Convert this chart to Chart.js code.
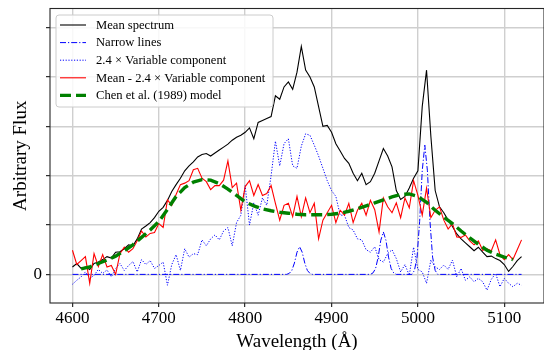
<!DOCTYPE html>
<html>
<head>
<meta charset="utf-8">
<script src="https://cdn.jsdelivr.net/npm/chart.js@4.4.1/dist/chart.umd.min.js"></script>
<style>
  html, body { margin: 0; padding: 0; background: #fff; }
  #wrap { width: 544px; height: 350px; }
</style>
</head>
<body>
<div id="wrap"><canvas id="spectrum" width="544" height="350"></canvas></div>
<script>
// 5 Å wavelength grid for the measured spectra
const wave = [];
for (let w = 4600; w <= 5120; w += 5) wave.push(w);

// mean spectrum
const meanFlux = [
  0.15, 0.22, 0.12, 0.15, 0.10, 0.22, 0.25, 0.30, 0.36, 0.33,
  0.45, 0.46, 0.52, 0.60, 0.58, 0.72, 0.92, 0.98, 1.05, 1.15,
  1.28, 1.36, 1.50, 1.68, 1.82, 1.95, 2.10, 2.20, 2.28, 2.38,
  2.43, 2.45, 2.40, 2.46, 2.52, 2.58, 2.64, 2.72, 2.78, 2.82,
  2.88, 2.97, 2.75, 3.08, 3.12, 3.16, 3.20, 3.62, 3.55, 3.80,
  3.90, 3.75, 4.10, 4.62, 4.14, 4.00, 3.80, 3.40, 3.00, 3.02,
  2.88, 2.65, 2.50, 2.35, 2.25, 2.05, 1.90, 2.05, 1.82, 1.88,
  2.05, 2.30, 2.55, 2.40, 2.18, 1.70, 1.52, 1.58, 1.75, 1.95,
  2.10, 3.40, 4.14, 2.80, 1.70, 1.37, 1.25, 1.10, 0.97, 0.82,
  0.72, 0.64, 0.56, 0.48, 0.55, 0.45, 0.36, 0.37, 0.32, 0.28,
  0.20, 0.06, 0.16, 0.28, 0.36
];

// 2.4 x variable component
const varFlux = [
  -0.20, -0.12, -0.05, 0.05, -0.08, -0.02, 0.10, 0.02, 0.09, -0.05,
  0.12, 0.22, 0.08, 0.18, 0.26, 0.05, 0.30, 0.20, 0.28, 0.12,
  0.18, 0.25, -0.22, 0.20, 0.40, 0.08, 0.52, 0.35, 0.42, 0.40,
  0.70, 0.58, 0.72, 0.80, 0.70, 0.88, 0.95, 0.58, 1.05, 1.20,
  1.80, 1.00, 1.45, 1.20, 1.55, 1.40, 2.00, 2.70, 2.20, 2.65,
  2.75, 2.20, 2.15, 2.60, 2.85, 2.82, 2.62, 2.40, 2.15, 1.90,
  1.70, 1.58, 1.20, 1.20, 0.95, 0.90, 0.72, 0.70, 0.50, 0.45,
  0.56, 0.30, 0.25, 0.42, 0.50, 0.32, 0.05, 0.20, -0.02, 0.55,
  0.10, 0.05, -0.18, 0.29, 0.15, 0.10, 0.19, 0.10, 0.29, -0.05,
  0.12, -0.12, -0.05, -0.15, -0.08, -0.15, -0.32, -0.10, 0.02, -0.25,
  -0.08, -0.18, -0.25, -0.18, -0.22
];

// mean minus 2.4 x variable component
const residFlux = [
  0.49, 0.20, 0.28, 0.36, -0.18, 0.42, 0.16, 0.40, 0.15, 0.18,
  0.00, 0.42, 0.55, 0.45, 0.52, 0.68, 0.88, 0.76, 0.83, 0.85,
  1.03, 0.95, 1.51, 1.40, 1.62, 1.82, 1.85, 1.90, 2.12, 2.15,
  1.95, 1.88, 1.72, 1.80, 1.80, 1.91, 2.30, 1.76, 1.85, 1.30,
  1.78, 1.90, 1.60, 1.82, 1.60, 1.64, 1.80, 1.44, 1.10, 1.40,
  1.44, 1.17, 1.58, 1.17, 1.55, 1.25, 1.44, 0.72, 1.10, 1.25,
  1.40, 1.05, 1.30, 1.20, 1.44, 1.05, 1.30, 1.44, 1.20, 1.50,
  1.31, 0.86, 1.55, 1.37, 1.25, 1.45, 1.15, 1.55, 1.35, 1.90,
  1.60, 1.20, 1.75, 1.15, 1.30, 1.37, 1.10, 0.92, 1.03, 0.76,
  0.75, 0.80, 0.68, 0.60, 0.68, 0.49, 0.52, 0.48, 0.70, 0.40,
  0.30, 0.40, 0.30, 0.50, 0.70
];

// narrow emission lines (Hβ, [O III] 4959, 5007)
const narrowWave = [
  4600, 4848, 4851, 4854, 4857, 4860, 4863, 4866, 4869, 4872, 4875, 4878,
  4945, 4948, 4951, 4954, 4957, 4960, 4963, 4966, 4969, 4972, 4975,
  4993, 4996, 4999, 5002, 5005, 5008, 5011, 5014, 5017, 5020, 5023, 5120
];
const narrowFlux = [
  0, 0, 0.02, 0.08, 0.23, 0.45, 0.56, 0.45, 0.23, 0.08, 0.02, 0,
  0, 0.03, 0.12, 0.35, 0.69, 0.86, 0.69, 0.35, 0.12, 0.03, 0,
  0, 0.08, 0.35, 1.07, 2.10, 2.62, 2.10, 1.07, 0.35, 0.08, 0, 0
];

// Chen et al. (1989) model on a 10 Å grid
const modelWave = [];
for (let w = 4610; w <= 5110; w += 10) modelWave.push(w);
const modelFlux = [
  0.11, 0.15, 0.22, 0.29, 0.37, 0.48, 0.60, 0.75, 0.90, 1.07,
  1.32, 1.58, 1.76, 1.87, 1.92, 1.91, 1.84, 1.73, 1.60, 1.47,
  1.39, 1.33, 1.29, 1.26, 1.24, 1.22, 1.21, 1.21, 1.21, 1.22,
  1.24, 1.28, 1.33, 1.39, 1.45, 1.51, 1.57, 1.62, 1.63, 1.58,
  1.46, 1.30, 1.16, 1.03, 0.88, 0.74, 0.61, 0.49, 0.41, 0.35,
  0.30
];

const xTicks = [4600, 4700, 4800, 4900, 5000, 5100];
const yTicks = [0, 1, 2, 3, 4, 5];

const pairs = (xs, ys) => xs.map((x, i) => ({ x: x, y: ys[i] }));
const serif = '"Liberation Serif", "Times New Roman", serif';

const series = [
  { label: 'Mean spectrum', data: pairs(wave, meanFlux), color: '#000000', width: 1.1, dash: [], order: 4 },
  { label: 'Narrow lines', data: pairs(narrowWave, narrowFlux), color: '#0000ff', width: 1.0, dash: [6, 2, 1.2, 2], order: 3 },
  { label: '2.4 \u00d7 Variable component', data: pairs(wave, varFlux), color: '#0000ff', width: 1.0, dash: [1.2, 1.6], order: 2 },
  { label: 'Mean - 2.4 \u00d7 Variable component', data: pairs(wave, residFlux), color: '#ff0000', width: 1.1, dash: [], order: 1 },
  { label: 'Chen et al. (1989) model', data: pairs(modelWave, modelFlux), color: '#008000', width: 3.4, dash: [11, 5], order: 0 }
];

// frame around the plotting area
const plotBox = {
  id: 'plotBox',
  afterDatasetsDraw(chart) {
    const { ctx, chartArea: a } = chart;
    ctx.save();
    ctx.strokeStyle = '#262626';
    ctx.lineWidth = 1.1;
    ctx.strokeRect(a.left, a.top, a.right - a.left, a.bottom - a.top);
    ctx.restore();
  }
};

// legend box in the upper left corner of the axes
const cornerLegend = {
  id: 'cornerLegend',
  afterDraw(chart) {
    const ctx = chart.ctx;
    const x0 = 56, y0 = 15, w = 217, h = 92, r = 3;
    ctx.save();
    ctx.beginPath();
    ctx.roundRect(x0, y0, w, h, r);
    ctx.fillStyle = 'rgba(255,255,255,0.85)';
    ctx.fill();
    ctx.strokeStyle = '#cccccc';
    ctx.lineWidth = 1;
    ctx.stroke();
    ctx.font = '12.6px ' + serif;
    ctx.textBaseline = 'middle';
    ctx.fillStyle = '#000';
    series.forEach((s, i) => {
      const y = 25 + i * 17.6;
      ctx.beginPath();
      ctx.setLineDash(s.dash);
      ctx.strokeStyle = s.color;
      ctx.lineWidth = s.width;
      ctx.moveTo(60, y);
      ctx.lineTo(86, y);
      ctx.stroke();
      ctx.setLineDash([]);
      ctx.fillText(s.label, 96, y + 0.5);
    });
    ctx.restore();
  }
};

new Chart(document.getElementById('spectrum'), {
  type: 'scatter',
  data: {
    datasets: series.map(s => ({
      label: s.label,
      data: s.data,
      showLine: true,
      fill: false,
      pointRadius: 0,
      borderColor: s.color,
      borderWidth: s.width,
      borderDash: s.dash,
      tension: 0,
      order: s.order
    }))
  },
  options: {
    responsive: false,
    animation: false,
    layout: { padding: { top: 8.5, right: 0, bottom: 0, left: 0 } },
    plugins: {
      legend: { display: false },
      tooltip: { enabled: false }
    },
    scales: {
      x: {
        type: 'linear',
        min: 4574,
        max: 5146,
        afterBuildTicks: scale => { scale.ticks = xTicks.map(v => ({ value: v })); },
        afterFit: scale => {
          scale.height = 47;
          scale.paddingLeft = 0;
          scale.paddingRight = 0;
        },
        ticks: {
          color: '#000',
          font: { family: serif, size: 17 },
          padding: 1,
          maxRotation: 0,
          callback: v => String(v)
        },
        grid: { color: '#cfcfcf', lineWidth: 1.4, tickColor: '#000', tickLength: 4, tickWidth: 1 },
        border: { display: false },
        title: {
          display: true,
          text: 'Wavelength (\u00c5)',
          color: '#000',
          font: { family: serif, size: 19 },
          padding: { top: 0, bottom: -3 }
        }
      },
      y: {
        type: 'linear',
        min: -0.58,
        max: 5.39,
        afterBuildTicks: scale => { scale.ticks = yTicks.map(v => ({ value: v })); },
        afterFit: scale => {
          scale.width = 50;
          scale.paddingTop = 0;
          scale.paddingBottom = 0;
        },
        ticks: {
          color: '#000',
          font: { family: serif, size: 17 },
          padding: 4,
          callback: v => (v === 0 ? '0' : '')
        },
        grid: { color: '#cfcfcf', lineWidth: 1.4, tickColor: '#000', tickLength: 4, tickWidth: 1 },
        border: { display: false },
        title: {
          display: true,
          text: 'Arbitrary Flux',
          color: '#000',
          font: { family: serif, size: 19 },
          padding: { top: 10, bottom: 0 }
        }
      }
    }
  },
  plugins: [plotBox, cornerLegend]
});
</script>
</body>
</html>
